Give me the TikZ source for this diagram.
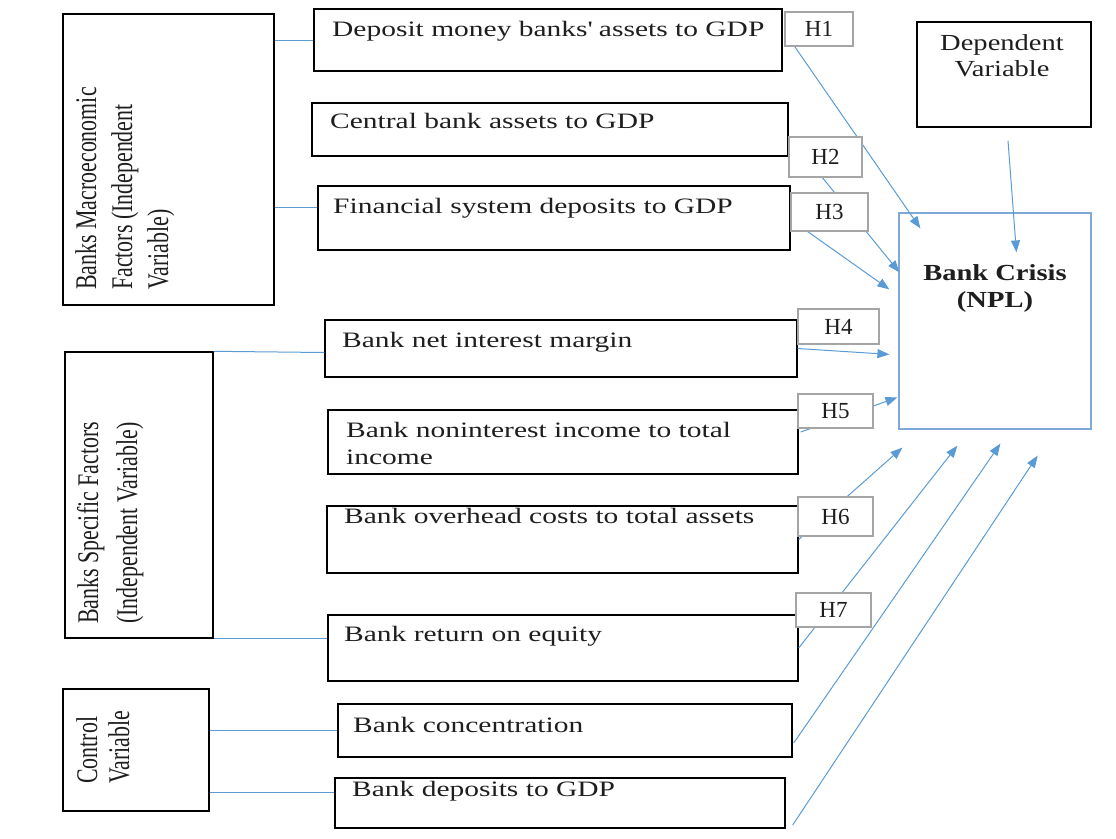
\documentclass[tikz,border=0pt]{standalone}
\usepackage{fontspec}
\setmainfont{Liberation Serif}
\newfontfamily\mainf[FakeStretch=1.34]{Liberation Serif}
\newfontfamily\rotf[FakeStretch=0.73]{Liberation Serif}
\newfontfamily\headf[FakeStretch=1.24]{Liberation Serif}
\usetikzlibrary{arrows.meta,calc,fit}
\definecolor{lblue}{RGB}{91,155,213}
\definecolor{cblue}{RGB}{125,170,215}
\definecolor{hgray}{RGB}{165,165,165}
\definecolor{tblack}{RGB}{30,30,30}
\begin{document}
\begin{tikzpicture}[x=1pt,y=-1pt,
 box/.style={draw=black, line width=1.4pt, inner sep=0pt},
 hbox/.style={draw=hgray, line width=1.1pt, fill=white, inner sep=0pt, font=\fontsize{23}{26}\selectfont, text=tblack},
 txt/.style={inner sep=0pt, anchor=base west, font=\mainf\fontsize{22}{27}\selectfont, text=tblack, align=left},
 rtxt/.style={inner sep=0pt, anchor=base west, rotate=90, text=tblack, align=left},
 con/.style={draw=lblue, line width=1pt},
 arr/.style={con, -{Triangle[length=12pt,width=9pt]}},
]
\useasboundingbox (0,0) rectangle (1116,838);
% left group boxes
\node[box, fit={(63,14) (274,305)}] (macro) {};
\node[box, fit={(65,352) (213,638)}] (spec) {};
\node[box, fit={(63,689) (209,811)}] (ctrl) {};
% variable boxes
\node[box, fit={(314,9) (782,71)}] (dep) {};
\node[box, fit={(312,103) (788,156)}] (cen) {};
\node[box, fit={(318,186) (790,250)}] (fin) {};
\node[box, fit={(325,320) (797,377)}] (nim) {};
\node[box, fit={(328,410) (798,474)}] (non) {};
\node[box, fit={(327,506) (798,573)}] (ovh) {};
\node[box, fit={(328,615) (798,681)}] (roe) {};
\node[box, fit={(338,704) (792,757)}] (conc) {};
\node[box, fit={(335,778) (785,828)}] (deps) {};
\node[box, fit={(917,22) (1091,127)}] (dv) {};
\node[draw=cblue, line width=1.2pt, inner sep=0pt, fit={(899,213) (1091,429)}] (crisis) {};
% texts
\node[rtxt, font=\rotf\fontsize{30}{36}\selectfont] (t-macro) at (168,290) {Banks Macroeconomic\\Factors (Independent\\Variable)};
\node[rtxt, font=\rotf\fontsize{30}{39}\selectfont] (t-spec) at (137,624) {Banks Specific Factors\\(Independent Variable)};
\node[rtxt, font=\rotf\fontsize{30}{32}\selectfont] (t-ctrl) at (129,784) {Control\\Variable};
\node[txt] (t-dep) at (332,36) {Deposit money banks\textquotesingle{} assets to GDP};
\node[txt] (t-cen) at (330,128) {Central bank assets to GDP};
\node[txt] (t-fin) at (333,213) {Financial system deposits to GDP};
\node[txt] (t-nim) at (342,347) {Bank net interest margin};
\node[txt] (t-non) at (346,464) {Bank noninterest income to total\\income};
\node[txt] (t-ovh) at (344,523) {Bank overhead costs to total assets};
\node[txt] (t-roe) at (344,641) {Bank return on equity};
\node[txt] (t-conc) at (353,732) {Bank concentration};
\node[txt] (t-deps) at (352,796) {Bank deposits to GDP};
\node[inner sep=0pt, anchor=base, align=center, text=tblack, font=\headf\fontsize{23}{26}\selectfont] (t-dv) at (1002,76) {Dependent\\Variable};
\node[inner sep=0pt, anchor=base, align=center, text=tblack, font=\headf\bfseries\fontsize{23}{27}\selectfont] (t-crisis) at (995,307) {Bank Crisis\\(NPL)};
% left connectors
\draw[con] (macro.east |- dep.west) -- (dep.west);
\coordinate (finc) at ([yshift=11pt]fin.west);
\draw[con] (finc -| macro.east) -- (finc);
\draw[con] (spec.north east) -- ([yshift=-4pt]nim.west);
\draw[con] (spec.south east) -- (spec.south east -| roe.west);
\draw[con] (ctrl.east |- conc.west) -- (conc.west);
\coordinate (dpc) at ([yshift=11pt]deps.west);
\draw[con] (dpc -| ctrl.east) -- (dpc);
% hypothesis arrows
\coordinate (h1s) at (795,47);
\draw[arr] (h1s) -- ($(crisis.north west)+(22,16)$);
\draw[arr] ($(crisis.north west)+(-77,-36)$) -- ($(crisis.north west)+(1,60)$);
\draw[arr] ($(crisis.north west)+(-91,19)$) -- ($(crisis.north west)+(-9,77)$);
\draw[arr] (nim.east) -- ($(crisis.north west)+(-9,142)$);
\draw[arr] ($(non.east)+(2,-10)$) -- ($(crisis.north west)+(-1,185)$);
\draw[arr] (ovh.east) -- ($(crisis.south west)+(4,18)$);
\draw[arr] (roe.east) -- ($(crisis.south west)+(59,16)$);
\draw[arr] ($(conc.east)+(1,12.5)$) -- ($(crisis.south west)+(102,14)$);
\draw[arr] ($(deps.east)+(7,22)$) -- ($(crisis.south east)+(-54,26)$);
\draw[arr] ($(dv.south)+(4,13)$) -- ($(crisis.north west)+(118,40)$);
% hypothesis labels
\node[hbox, minimum width=68pt, minimum height=34pt] (h1) at (819,29) {H1};
\node[hbox, minimum width=73pt, minimum height=40pt] (h2) at (825.5,157) {H2};
\node[hbox, minimum width=77pt, minimum height=38pt] (h3) at (829.5,212) {H3};
\node[hbox, minimum width=81pt, minimum height=35pt] (h4) at (838.5,326.5) {H4};
\node[hbox, minimum width=75pt, minimum height=34pt] (h5) at (835.5,411) {H5};
\node[hbox, minimum width=75pt, minimum height=39pt] (h6) at (835.5,516.5) {H6};
\node[hbox, minimum width=75pt, minimum height=34pt] (h7) at (833.5,610) {H7};
\end{tikzpicture}
\end{document}
